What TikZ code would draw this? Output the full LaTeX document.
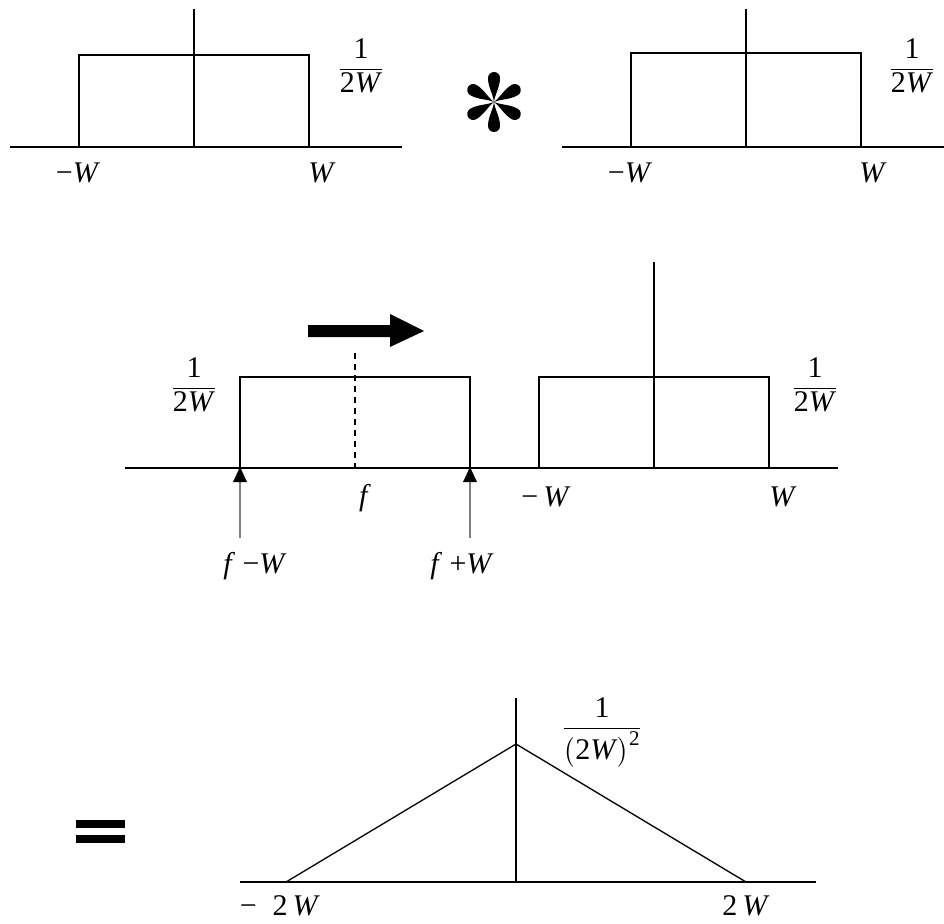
\documentclass[tikz,border=0pt]{standalone}
\usepackage{amsmath}
\usepackage{fontspec}
\setmainfont{Liberation Serif}
\begin{document}
\begin{tikzpicture}[x=1pt,y=-1pt,
  ax/.style={line width=1.3pt},
  lbl/.style={font=\fontsize{30}{36}\selectfont, inner sep=0pt},
  lobe/.style={fill=black}]
\useasboundingbox (0,0) rectangle (944,923);

% ---------- panel 1 ----------
\coordinate (a1l) at (10,147); \coordinate (a1r) at (402,147);
\coordinate (v1b) at (194,147); \coordinate (v1t) at (194,9);
\draw[ax] (a1l) -- (a1r);
\draw[ax] (v1t) -- (v1b);
\draw[ax] (79,147) -- (79,55) -- (309,55) -- (309,147);
\node[lbl] (p1f) at (361,66) {$\dfrac{\text{1}}{\text{2\textit{W}}}$};
\node[lbl] (p1a) at (78,173) {−\textit{W}};
\node[lbl] (p1b) at (322,173) {\textit{W}};

% ---------- convolution star ----------
\begin{scope}[shift={(494,102)}]
  \foreach \a in {30,90,150,210,270,330}{
    \fill[lobe,rotate=\a] (0,0) .. controls (8,-1) and (15,-6) .. (24,-6)
      arc[start angle=-90,end angle=90,radius=6]
      .. controls (15,6) and (8,1) .. (0,0) -- cycle;
  }
\end{scope}

% ---------- panel 2 ----------
\coordinate (a2l) at (562,147); \coordinate (a2r) at (944,147);
\coordinate (v2b) at (746,147); \coordinate (v2t) at (746,9);
\draw[ax] (a2l) -- (a2r);
\draw[ax] (v2t) -- (v2b);
\draw[ax] (631,147) -- (631,53) -- (861,53) -- (861,147);
\node[lbl] (p2f) at (912,66) {$\dfrac{\text{1}}{\text{2\textit{W}}}$};
\node[lbl] (p2a) at (630,173) {−\textit{W}};
\node[lbl] (p2b) at (873,173) {\textit{W}};

% ---------- middle panel ----------
\coordinate (a3l) at (125,468); \coordinate (a3r) at (838,468);
\draw[ax] (a3l) -- (a3r);
\draw[ax] (240,468) -- (240,377) -- (470,377) -- (470,468);
\draw[ax, dash pattern=on 6pt off 5pt] (355,353) -- (355,468);
\draw[ax] (539,468) -- (539,377) -- (769,377) -- (769,468);
\draw[ax] (654,262) -- (654,468);
\fill (308,325) -- (390,325) -- (390,314) -- (424,331) -- (390,347) -- (390,337) -- (308,337) -- cycle;

% pointer arrows
\draw[ax, gray] (240,538) -- (240,480);
\fill (240,467) -- (233,482) -- (247,482) -- cycle;
\draw[ax, gray] (470,538) -- (470,480);
\fill (470,467) -- (463,482) -- (477,482) -- cycle;

\node[lbl] (m1f) at (194,385) {$\dfrac{\text{1}}{\text{2\textit{W}}}$};
\node[lbl] (m2f) at (815,385) {$\dfrac{\text{1}}{\text{2\textit{W}}}$};
\node[lbl] (mf) at (365,498) {\textit{f}};
\node[lbl] (ma) at (546,497) {−\,\textit{W}};
\node[lbl] (mb) at (783,497) {\textit{W}};
\node[lbl] (mfl) at (255,566) {\textit{f} −\textit{W}};
\node[lbl] (mfr) at (462,566) {\textit{f} +\textit{W}};

% ---------- bottom panel ----------
\fill (76,820) rectangle (125,828);
\fill (76,835) rectangle (125,843);
\coordinate (a4l) at (240,882); \coordinate (a4r) at (816,882);
\draw[ax] (a4l) -- (a4r);
\draw[ax] (516,698) -- (516,882);
\draw[ax] (286,882) -- (516,744) -- (746,882);
\node[lbl] (bf) at (602,733) {$\dfrac{\text{1}}{\bigl(\text{2\textit{W}}\bigr)^{\text{2}}}$};
\node[lbl] (ba) at (280,906) {−\; 2\,\textit{W}};
\node[lbl] (bb) at (746,906) {2\,\textit{W}};
\end{tikzpicture}
\end{document}
